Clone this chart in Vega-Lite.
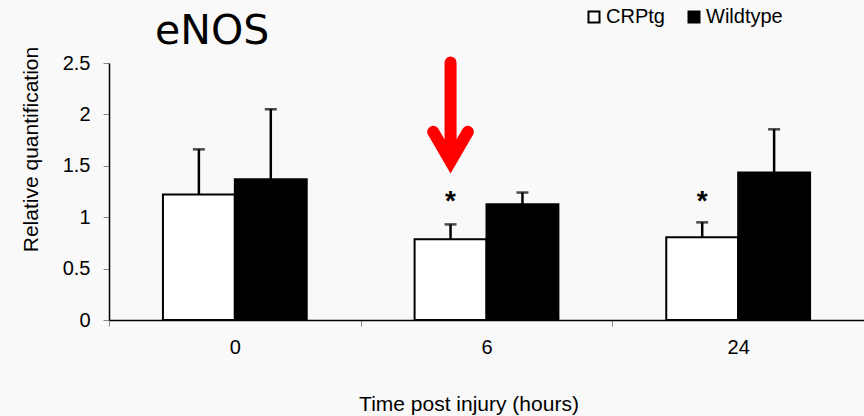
{
  "$schema": "https://vega.github.io/schema/vega-lite/v6.json",
  "width": 755,
  "height": 257,
  "autosize": {"type": "none"},
  "padding": {"left": 109, "top": 63, "right": 0, "bottom": 96},
  "background": "#f9f9f9",
  "config": {
    "view": {"stroke": null},
    "font": "Liberation Sans"
  },
  "title": {
    "text": "eNOS",
    "anchor": "start",
    "frame": "group",
    "font": "DejaVu Sans",
    "fontSize": 41,
    "fontWeight": "normal",
    "color": "black",
    "baseline": "alphabetic",
    "offset": -78,
    "dx": 46
  },
  "data": {
    "values": [
      {"time": "0", "genotype": "CRPtg", "mean": 1.22, "upper": 1.66, "sig": 0, "arrow": 0},
      {"time": "0", "genotype": "Wildtype", "mean": 1.37, "upper": 2.05, "sig": 0, "arrow": 0},
      {"time": "6", "genotype": "CRPtg", "mean": 0.785, "upper": 0.93, "sig": 1, "arrow": 1},
      {"time": "6", "genotype": "Wildtype", "mean": 1.125, "upper": 1.24, "sig": 0, "arrow": 0},
      {"time": "24", "genotype": "CRPtg", "mean": 0.805, "upper": 0.95, "sig": 1, "arrow": 0},
      {"time": "24", "genotype": "Wildtype", "mean": 1.435, "upper": 1.855, "sig": 0, "arrow": 0}
    ]
  },
  "encoding": {
    "x": {
      "field": "time",
      "type": "nominal",
      "sort": ["0", "6", "24"],
      "scale": {"paddingInner": 0, "paddingOuter": 0},
      "axis": {
        "title": "Time post injury (hours)",
        "titleFont": "Liberation Sans",
        "titleFontSize": 21,
        "titleFontWeight": "normal",
        "titleColor": "black",
        "titleX": 359.5,
        "titleY": 90,
        "titleAlign": "center",
        "titleBaseline": "alphabetic",
        "labelAngle": 0,
        "labelFont": "Liberation Sans",
        "labelFontSize": 20,
        "labelColor": "black",
        "labelBaseline": "alphabetic",
        "labelPadding": 27,
        "tickBand": "extent",
        "tickColor": "#888888",
        "tickSize": 6,
        "domainColor": "black",
        "domainWidth": 1.5,
        "grid": false
      }
    },
    "xOffset": {
      "field": "genotype",
      "type": "nominal",
      "sort": ["CRPtg", "Wildtype"],
      "scale": {"paddingInner": 0, "paddingOuter": 0.75}
    }
  },
  "layer": [
    {
      "mark": {"type": "bar", "stroke": "black", "strokeWidth": 2},
      "encoding": {
        "y": {
          "field": "mean",
          "type": "quantitative",
          "scale": {"domain": [0, 2.5], "nice": false},
          "axis": {
            "values": [0, 0.5, 1, 1.5, 2, 2.5],
            "format": "~g",
            "grid": false,
            "title": "Relative quantification",
            "titleFont": "Liberation Sans",
            "titleFontSize": 21,
            "titleFontWeight": "normal",
            "titleColor": "black",
            "titleAngle": -90,
            "titleX": -72,
            "titleY": 86,
            "titleAlign": "center",
            "titleBaseline": "alphabetic",
            "labelFont": "Liberation Sans",
            "labelFontSize": 20,
            "labelColor": "black",
            "labelPadding": 13,
            "tickColor": "#888888",
            "tickSize": 6,
            "domainColor": "black",
            "domainWidth": 1.5
          }
        },
        "fill": {
          "field": "genotype",
          "type": "nominal",
          "scale": {"domain": ["CRPtg", "Wildtype"], "range": ["white", "black"]},
          "legend": {
            "orient": "none",
            "legendX": 475,
            "legendY": -56,
            "direction": "horizontal",
            "title": null,
            "symbolType": "square",
            "symbolSize": 121,
            "symbolStrokeColor": "black",
            "symbolStrokeWidth": 2,
            "labelFont": "Liberation Sans",
            "labelFontSize": 20,
            "labelColor": "black",
            "labelOffset": 2,
            "columnPadding": 19,
            "padding": 0
          }
        }
      }
    },
    {
      "mark": {"type": "rule", "color": "black", "strokeWidth": 2.5},
      "encoding": {
        "y": {"field": "mean", "type": "quantitative"},
        "y2": {"field": "upper"}
      }
    },
    {
      "mark": {"type": "tick", "color": "black", "size": 12, "thickness": 2.5, "orient": "horizontal"},
      "encoding": {
        "y": {"field": "upper", "type": "quantitative"}
      }
    },
    {
      "transform": [{"filter": "datum.sig == 1"}],
      "mark": {"type": "text", "text": "*", "fontSize": 28, "font": "Liberation Sans", "fontWeight": "bold", "color": "black", "baseline": "middle", "align": "center", "dy": 5},
      "encoding": {
        "y": {"datum": 1.2, "type": "quantitative"}
      }
    },
    {
      "transform": [{"filter": "datum.arrow == 1"}],
      "mark": {
        "type": "point",
        "shape": "M0,-1L0,1M-0.35,0.4L0,1L0.35,0.4",
        "filled": false,
        "stroke": "#ff0000",
        "strokeWidth": 12,
        "strokeCap": "round",
        "strokeJoin": "miter",
        "opacity": 1,
        "size": 9801
      },
      "encoding": {
        "y": {"datum": 2.023, "type": "quantitative"}
      }
    }
  ]
}
